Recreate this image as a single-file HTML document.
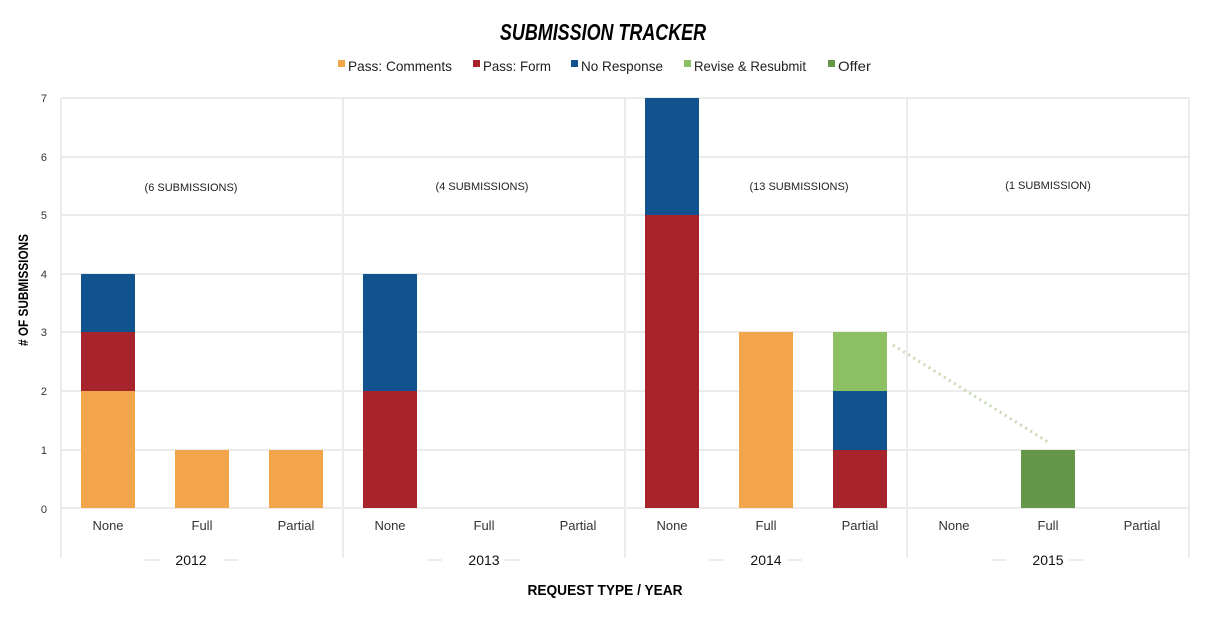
<!DOCTYPE html>
<html><head><meta charset="utf-8"><style>
body{margin:0;background:#fff;}
svg text{font-family:"Liberation Sans",sans-serif;}
</style></head><body>
<svg width="1207" height="612" viewBox="0 0 1207 612" xmlns="http://www.w3.org/2000/svg">
<rect width="1207" height="612" fill="#fff"/>
<text x="603" y="40" text-anchor="middle" font-size="23" font-weight="bold" font-style="italic" transform="translate(603 0) scale(0.78 1) translate(-603 0)">SUBMISSION TRACKER</text>
<g font-size="14" fill="#222">
<rect x="338" y="60" width="7" height="7" fill="#f3a54b"/><text x="348" y="71" textLength="104" lengthAdjust="spacingAndGlyphs">Pass: Comments</text>
<rect x="473" y="60" width="7" height="7" fill="#a8242d"/><text x="483" y="71" textLength="68" lengthAdjust="spacingAndGlyphs">Pass: Form</text>
<rect x="571" y="60" width="7" height="7" fill="#11538f"/><text x="581" y="71" textLength="82" lengthAdjust="spacingAndGlyphs">No Response</text>
<rect x="684" y="60" width="7" height="7" fill="#8cc063"/><text x="694" y="71" textLength="112" lengthAdjust="spacingAndGlyphs">Revise &amp; Resubmit</text>
<rect x="828" y="60" width="7" height="7" fill="#66964a"/><text x="838" y="71" textLength="33" lengthAdjust="spacingAndGlyphs">Offer</text>
</g>
<g stroke="#ebebeb" stroke-width="2">
<line x1="61" y1="98" x2="1189" y2="98"/><line x1="61" y1="157" x2="1189" y2="157"/>
<line x1="61" y1="215" x2="1189" y2="215"/><line x1="61" y1="274" x2="1189" y2="274"/>
<line x1="61" y1="332" x2="1189" y2="332"/><line x1="61" y1="391" x2="1189" y2="391"/>
<line x1="61" y1="450" x2="1189" y2="450"/><line x1="61" y1="508" x2="1189" y2="508"/>
<line x1="61" y1="98" x2="61" y2="558"/><line x1="343" y1="98" x2="343" y2="558"/>
<line x1="625" y1="98" x2="625" y2="558"/><line x1="907" y1="98" x2="907" y2="558"/>
<line x1="1189" y1="98" x2="1189" y2="558"/>
</g>
<g font-size="11" fill="#333" text-anchor="end">
<text x="47" y="102">7</text><text x="47" y="161">6</text><text x="47" y="219">5</text><text x="47" y="278">4</text>
<text x="47" y="336">3</text><text x="47" y="395">2</text><text x="47" y="454">1</text><text x="47" y="513">0</text>
</g>
<text transform="translate(28 290) rotate(-90)" text-anchor="middle" font-size="14" font-weight="bold" textLength="112" lengthAdjust="spacingAndGlyphs"># OF SUBMISSIONS</text>
<rect x="81" y="391" width="54" height="117" fill="#f3a54b"/>
<rect x="81" y="332" width="54" height="59" fill="#a8242d"/>
<rect x="81" y="274" width="54" height="58" fill="#11538f"/>
<rect x="175" y="450" width="54" height="58" fill="#f3a54b"/>
<rect x="269" y="450" width="54" height="58" fill="#f3a54b"/>
<rect x="363" y="391" width="54" height="117" fill="#a8242d"/>
<rect x="363" y="274" width="54" height="117" fill="#11538f"/>
<rect x="645" y="215" width="54" height="293" fill="#a8242d"/>
<rect x="645" y="98" width="54" height="117" fill="#11538f"/>
<rect x="739" y="332" width="54" height="176" fill="#f3a54b"/>
<rect x="833" y="450" width="54" height="58" fill="#a8242d"/>
<rect x="833" y="391" width="54" height="59" fill="#11538f"/>
<rect x="833" y="332" width="54" height="59" fill="#8cc063"/>
<rect x="1021" y="450" width="54" height="58" fill="#66964a"/>
<line x1="893" y1="345" x2="1048" y2="442" stroke="#c8d9b4" stroke-width="3" stroke-dasharray="2 4"/>
<g font-size="11" fill="#222" text-anchor="middle">
<text x="191" y="191">(6 SUBMISSIONS)</text><text x="482" y="190">(4 SUBMISSIONS)</text>
<text x="799" y="190">(13 SUBMISSIONS)</text><text x="1048" y="189">(1 SUBMISSION)</text>
</g>
<g font-size="13" fill="#333" text-anchor="middle">
<text x="108" y="530">None</text><text x="202" y="530">Full</text><text x="296" y="530">Partial</text>
<text x="390" y="530">None</text><text x="484" y="530">Full</text><text x="578" y="530">Partial</text>
<text x="672" y="530">None</text><text x="766" y="530">Full</text><text x="860" y="530">Partial</text>
<text x="954" y="530">None</text><text x="1048" y="530">Full</text><text x="1142" y="530">Partial</text>
</g>
<g stroke="#e6e6e6" stroke-width="1.5">
<line x1="145" y1="560" x2="160" y2="560"/><line x1="223" y1="560" x2="238" y2="560"/>
<line x1="427" y1="560" x2="442" y2="560"/><line x1="505" y1="560" x2="520" y2="560"/>
<line x1="709" y1="560" x2="724" y2="560"/><line x1="787" y1="560" x2="802" y2="560"/>
<line x1="991" y1="560" x2="1006" y2="560"/><line x1="1069" y1="560" x2="1084" y2="560"/>
</g>
<g font-size="14" fill="#111" text-anchor="middle">
<text x="191" y="565">2012</text><text x="484" y="565">2013</text><text x="766" y="565">2014</text><text x="1048" y="565">2015</text>
</g>
<text x="605" y="595" text-anchor="middle" font-size="15" font-weight="bold" textLength="155" lengthAdjust="spacingAndGlyphs">REQUEST TYPE / YEAR</text>
</svg>
</body></html>
